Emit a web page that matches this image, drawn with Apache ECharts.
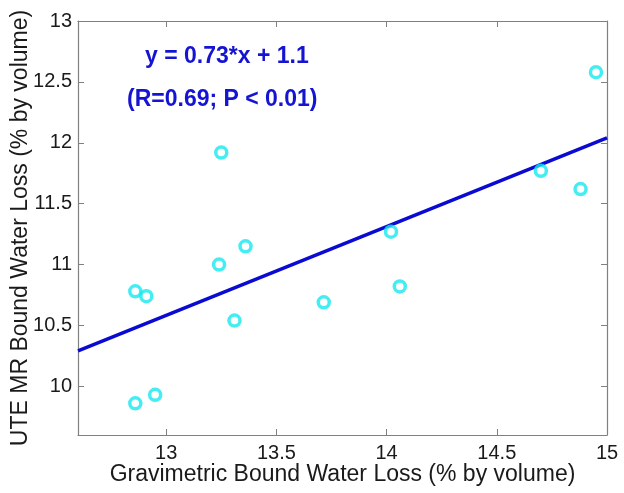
<!DOCTYPE html>
<html><head><meta charset="utf-8">
<script src="https://cdn.jsdelivr.net/npm/echarts@6/dist/echarts.min.js"></script>
<style>html,body{margin:0;padding:0;background:#fff}#c{width:624px;height:493px}</style>
</head><body><div id="c"></div>
<script>
const gravX = [12.86, 12.91, 12.86, 12.95, 13.25, 13.36, 13.24, 13.31, 13.715, 14.02, 14.06, 14.70, 14.88, 14.95];
const uteY  = [10.78, 10.74, 9.86, 9.93, 11.92, 11.15, 11.00, 10.54, 10.69, 11.27, 10.82, 11.77, 11.62, 12.58];
const fitX = [12.6, 15];
const fitY = [10.29, 12.04];
const xTicks = [13, 13.5, 14, 14.5, 15];
const yTicks = [10, 10.5, 11, 11.5, 12, 12.5, 13];
const eqText = 'y = 0.73*x + 1.1';
const statText = '(R=0.69; P < 0.01)';
const xName = 'Gravimetric Bound Water Loss (% by volume)';
const yName = 'UTE MR Bound Water Loss (% by volume)';

const font = 'Arial, "Liberation Sans", sans-serif';
const chart = echarts.init(document.getElementById('c'), null, {renderer:'canvas'});
const line = {show:true, onZero:false, lineStyle:{color:'#808080', width:1.2}};
const tick = (vals)=>({show:true, inside:true, length:6, customValues:vals, lineStyle:{color:'#808080'}});
chart.setOption({
  animation:false,
  backgroundColor:'#fff',
  grid:{left:78, right:17, top:21, bottom:58, containLabel:false, outerBoundsMode:'none'},
  xAxis:[
    {type:'value', min:12.6, max:15, position:'bottom',
      axisLine:line, axisTick:tick(xTicks), splitLine:{show:false},
      axisLabel:{show:true, customValues: xTicks, color:'#1a1a1a', fontSize:20, fontFamily:font, margin:8},
      name:xName, nameLocation:'middle', nameGap:28, nameMoveOverlap:false,
      nameTextStyle:{color:'#1a1a1a', fontSize:23, fontFamily:font}},
    {type:'value', min:12.6, max:15, position:'top',
      axisLine:line, axisTick:tick(xTicks), splitLine:{show:false}, axisLabel:{show:false}}
  ],
  yAxis:[
    {type:'value', min:9.6, max:13, position:'left',
      axisLine:line, axisTick:tick(yTicks), splitLine:{show:false},
      axisLabel:{show:true, customValues: yTicks, color:'#1a1a1a', fontSize:20, fontFamily:font, margin:6},
      name:yName, nameLocation:'middle', nameGap:46, nameMoveOverlap:false,
      nameTextStyle:{color:'#1a1a1a', fontSize:23, fontFamily:font}},
    {type:'value', min:9.6, max:13, position:'right',
      axisLine:line, axisTick:tick(yTicks), splitLine:{show:false}, axisLabel:{show:false}}
  ],
  series:[
    {type:'line', data: fitX.map((x,i)=>[x, fitY[i]]), showSymbol:false, symbol:'none',
     lineStyle:{color:'#0a0ad2', width:3.5}, z:2},
    {type:'scatter', data: gravX.map((x,i)=>[x, uteY[i]]), symbol:'circle', symbolSize:11,
     itemStyle:{color:'rgba(0,0,0,0)', borderColor:'#14e8ee', borderWidth:3.5}, z:3}
  ],
  graphic:[
    {type:'text', left:145, top:45, style:{text:eqText, fill:'#1414d2', font:'bold 23px '+font}},
    {type:'text', left:127, top:88, style:{text:statText, fill:'#1414d2', font:'bold 23px '+font}}
  ]
});
</script></body></html>
